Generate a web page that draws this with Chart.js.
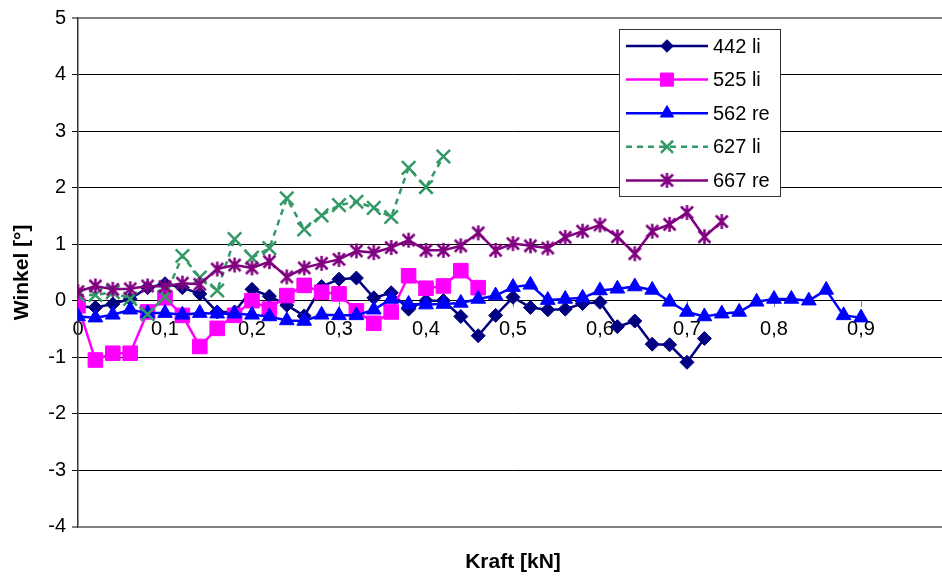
<!DOCTYPE html>
<html><head><meta charset="utf-8">
<script src="https://cdn.jsdelivr.net/npm/chart.js@4.4.1/dist/chart.umd.min.js"></script>
<style>html,body{margin:0;padding:0;background:#fff;overflow:hidden;}#wrap{width:960px;height:581px;overflow:hidden;}</style>
</head><body><div id="wrap"><canvas id="c" width="960" height="581"></canvas></div>
<script>
const kraft = [0,0.02,0.04,0.06,0.08,0.1,0.12,0.14,0.16,0.18,0.2,0.22,0.24,0.26,0.28,0.3,0.32,0.34,0.36,0.38,0.4,0.42,0.44,0.46,0.48,0.5,0.52,0.54,0.56,0.58,0.6,0.62,0.64,0.66,0.68,0.7,0.72,0.74,0.76,0.78,0.8,0.82,0.84,0.86,0.88,0.9];
const seriesNames = ['442 li','525 li','562 re','627 li','667 re'];
const s442 = [-0.1,-0.12,-0.06,0.03,0.23,0.3,0.23,0.12,-0.2,-0.2,0.2,0.08,-0.08,-0.27,0.25,0.38,0.4,0.05,0.14,-0.15,0,0,-0.28,-0.62,-0.26,0.06,-0.12,-0.16,-0.15,-0.05,-0.03,-0.46,-0.36,-0.77,-0.78,-1.09,-0.67];
const s525 = [-0.09,-1.05,-0.93,-0.93,-0.2,0.05,-0.26,-0.81,-0.49,-0.26,0,-0.15,0.09,0.27,0.15,0.12,-0.18,-0.4,-0.2,0.44,0.22,0.26,0.53,0.23];
const s562 = [-0.28,-0.3,-0.25,-0.16,-0.22,-0.22,-0.25,-0.22,-0.23,-0.23,-0.25,-0.28,-0.35,-0.36,-0.25,-0.26,-0.26,-0.16,0.03,-0.06,-0.07,-0.06,-0.04,0.03,0.09,0.24,0.28,0.01,0.03,0.05,0.18,0.21,0.25,0.19,-0.02,-0.2,-0.28,-0.23,-0.2,-0.02,0.03,0.03,0,0.19,-0.26,-0.3];
const s627 = [0.1,0.1,0.15,0.03,-0.24,0.07,0.79,0.41,0.18,1.09,0.76,0.93,1.81,1.26,1.51,1.69,1.75,1.64,1.48,2.35,2.01,2.55];
const s667 = [0.16,0.26,0.2,0.21,0.26,0.25,0.31,0.29,0.56,0.63,0.58,0.69,0.42,0.58,0.66,0.73,0.88,0.85,0.94,1.07,0.89,0.89,0.97,1.2,0.89,1.01,0.97,0.93,1.12,1.23,1.34,1.13,0.83,1.23,1.35,1.56,1.13,1.4];
const xTickLabels = ['0','0,1','0,2','0,3','0,4','0,5','0,6','0,7','0,8','0,9'];
const yTickLabels = ['-4','-3','-2','-1','0','1','2','3','4','5'];

function makeStar(color, size, lw) {
  const c = document.createElement('canvas');
  c.width = size; c.height = size;
  const g = c.getContext('2d');
  g.strokeStyle = color; g.lineWidth = lw; g.lineCap = 'butt';
  const h = size / 2, r = h - 1, d = r * 0.8;
  g.beginPath();
  g.moveTo(h, h - r); g.lineTo(h, h + r);
  g.moveTo(h - d, h - d); g.lineTo(h + d, h + d);
  g.moveTo(h + d, h - d); g.lineTo(h - d, h + d);
  g.stroke();
  return c;
}
const starImg = makeStar('#800080', 17, 2.5);

function pts(vals) { return vals.map((v, i) => ({x: kraft[i], y: v})); }

const styles = [
  {color:'#000080', pointStyle:'rectRot', radius:7, bw:1, dash:[]},
  {color:'#FF00FF', pointStyle:'rect', radius:10.3, bw:1, dash:[]},
  {color:'#0000FF', pointStyle:'triangle', radius:8.5, bw:1, dash:[]},
  {color:'#339966', pointStyle:'crossRot', radius:9.5, bw:2.5, dash:[6,5]},
  {color:'#800080', pointStyle:starImg, radius:8, bw:2, dash:[]}
];
const allSeries = [s442, s525, s562, s627, s667];

const datasets = allSeries.map((s, i) => ({
  label: seriesNames[i],
  data: pts(s),
  borderColor: styles[i].color,
  backgroundColor: styles[i].color,
  borderWidth: 2.5,
  borderDash: styles[i].dash,
  pointStyle: styles[i].pointStyle,
  pointRadius: styles[i].radius,
  pointHoverRadius: styles[i].radius,
  pointBorderWidth: styles[i].bw,
  pointBorderColor: styles[i].color,
  pointBackgroundColor: styles[i].color,
  tension: 0,
  order: 5 - i
}));

const boxLegend = {
  id: 'boxLegend',
  afterDraw(chart) {
    const ctx = chart.ctx;
    const L = 619, T = 29, W = 161, H = 167;
    ctx.save();
    ctx.fillStyle = '#fff';
    ctx.fillRect(L, T, W, H);
    ctx.strokeStyle = '#333'; ctx.lineWidth = 1;
    ctx.strokeRect(L + 0.5, T + 0.5, W, H);
    ctx.font = '20px "Liberation Sans", Arial, sans-serif';
    ctx.textBaseline = 'middle'; ctx.textAlign = 'left';
    chart.data.datasets.forEach((ds, i) => {
      const y = T + 17 + i * 33.6;
      ctx.save();
      ctx.strokeStyle = ds.borderColor; ctx.lineWidth = ds.borderWidth;
      ctx.setLineDash(ds.borderDash || []);
      ctx.beginPath(); ctx.moveTo(626, y); ctx.lineTo(708, y); ctx.stroke();
      ctx.setLineDash([]);
      ctx.fillStyle = ds.pointBackgroundColor; ctx.strokeStyle = ds.pointBorderColor;
      ctx.lineWidth = ds.pointBorderWidth;
      const r = ds.pointRadius * 0.9;
      Chart.helpers.drawPoint(ctx, {pointStyle: ds.pointStyle, rotation: 0, radius: r, borderWidth: ds.pointBorderWidth}, 667, y);
      ctx.restore();
      ctx.fillStyle = '#000';
      ctx.fillText(ds.label, 713, y + 1);
    });
    ctx.restore();
  }
};

new Chart(document.getElementById('c'), {
  type: 'line',
  data: {datasets},
  options: {
    responsive: false,
    animation: false,
    events: [],
    layout: {padding: {top: 15, left: 0, right: 10, bottom: 0}},
    plugins: {
      legend: {display: false},
      tooltip: {enabled: false},
      title: {
        display: true, text: 'Kraft [kN]', position: 'bottom', fullSize: false,
        color: '#000', font: {family: '"Liberation Sans", Arial, sans-serif', size: 21, weight: 'bold'},
        padding: {top: 23, bottom: 6}
      }
    },
    scales: {
      x: {
        type: 'linear', min: 0, max: 1,
        position: {y: 0},
        grid: {drawOnChartArea: false, drawTicks: true, tickLength: 6, color: '#808080'},
        border: {display: true, color: '#000', width: 1},
        ticks: {
          stepSize: 0.1, autoSkip: false, maxRotation: 0, padding: 11, color: '#000',
          font: {family: '"Liberation Sans", Arial, sans-serif', size: 20},
          callback: (v, i) => (i < xTickLabels.length ? xTickLabels[i] : '')
        }
      },
      y: {
        type: 'linear', min: -4, max: 5,
        afterFit: (s) => { s.width = 78; },
        grid: {
          color: (c) => (c.tick && (c.tick.value === 5 || c.tick.value === -4)) ? '#808080' : '#000',
          lineWidth: (c) => (c.tick && (c.tick.value === 5 || c.tick.value === -4)) ? 2 : 1,
          tickLength: 6
        },
        border: {display: true, color: '#333', width: 1.5},
        title: {
          display: true, text: 'Winkel [°]', color: '#000',
          font: {family: '"Liberation Sans", Arial, sans-serif', size: 21, weight: 'bold'},
          padding: {top: 10, bottom: 0}
        },
        ticks: {
          stepSize: 1, padding: 6, color: '#000',
          font: {family: '"Liberation Sans", Arial, sans-serif', size: 20},
          callback: (v, i) => yTickLabels[i]
        }
      }
    }
  },
  plugins: [boxLegend]
});
</script></body></html>
